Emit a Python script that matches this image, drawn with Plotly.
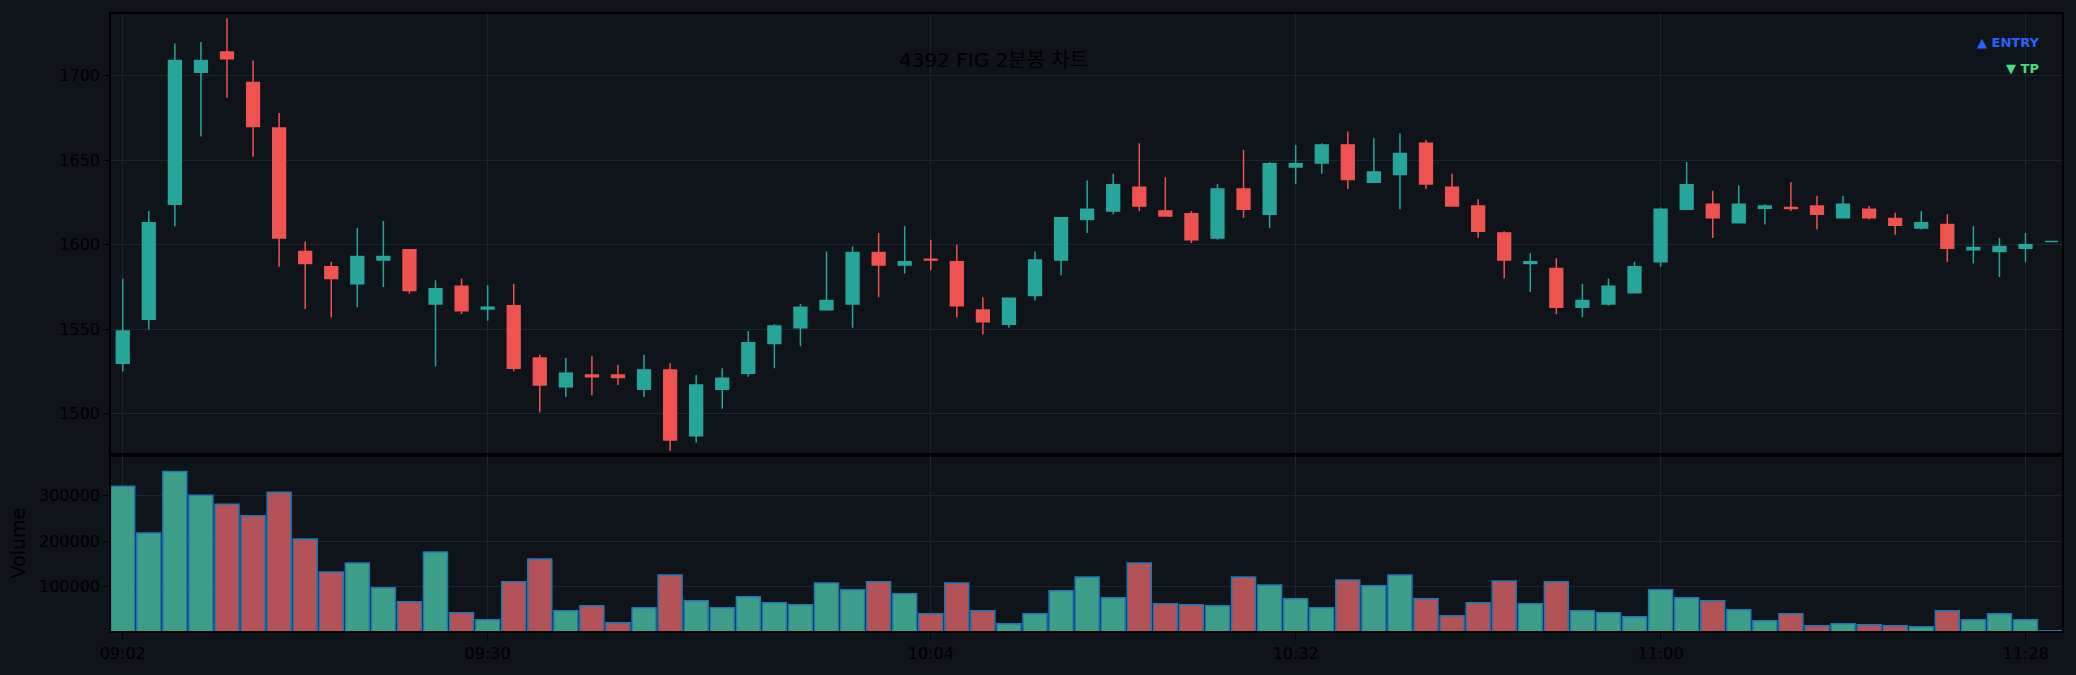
import pandas as pd
import plotly.graph_objects as go
from plotly.subplots import make_subplots

TITLE = "4392 FIG 2분봉 차트"
START = "2024-01-02 09:02"
FREQ = "2min"

OPEN = [1530, 1556, 1624, 1702, 1714, 1696, 1669, 1596, 1587, 1577,
        1591, 1597, 1565, 1575.5, 1562, 1564, 1533, 1516, 1523, 1523,
        1514.5, 1526, 1487, 1514.5, 1524, 1541.6, 1551, 1561.6, 1565, 1595.5,
        1588, 1591.5, 1590, 1561.4, 1553, 1570, 1591, 1615, 1620, 1634,
        1620, 1618.4, 1604, 1633, 1618, 1646, 1648.4, 1659, 1637, 1641.6,
        1660, 1634, 1623, 1607, 1589, 1586, 1563, 1565, 1571.6, 1590,
        1621, 1624, 1613, 1621.6, 1622, 1623, 1616, 1621, 1615.5, 1610,
        1612, 1597, 1596, 1598, 1602]
HIGH = [1580, 1620, 1719, 1720, 1734, 1709, 1678, 1602, 1590, 1610,
        1614, 1597.5, 1579, 1580, 1576, 1577, 1535, 1533, 1534, 1529,
        1535, 1530, 1523, 1527, 1549, 1553, 1565, 1596, 1599, 1607,
        1611, 1603, 1600, 1569, 1568.5, 1596, 1616, 1638, 1642, 1660,
        1640, 1620, 1636, 1656, 1649, 1659, 1660, 1667, 1663, 1666,
        1662, 1642, 1627, 1608, 1595, 1592, 1577, 1580, 1590, 1622,
        1649, 1632, 1635, 1624, 1637, 1629, 1629, 1623, 1619, 1620,
        1618, 1611, 1604, 1607, 1602]
LOW = [1525, 1550, 1611, 1664, 1687, 1652, 1587, 1562, 1557, 1563,
       1575, 1571, 1528, 1559, 1555, 1525, 1501, 1510, 1511, 1517,
       1510, 1478, 1483, 1503, 1522, 1527, 1540, 1561, 1551, 1569,
       1583, 1585, 1557, 1547, 1551, 1567, 1582, 1607, 1618, 1620,
       1617, 1601, 1603, 1616, 1610, 1636, 1642, 1633, 1637, 1621,
       1633, 1622.7, 1604, 1580, 1572, 1559, 1557, 1564, 1571.5, 1587,
       1621, 1604, 1612.7, 1612, 1620, 1609, 1615.7, 1615, 1606, 1609,
       1590, 1589, 1581, 1590, 1602]
CLOSE = [1549, 1613, 1709, 1709, 1710, 1670, 1604, 1589, 1580, 1593,
         1593, 1573, 1574, 1561, 1563, 1527, 1517, 1524, 1522, 1521.5,
         1526, 1484.5, 1517, 1521, 1542, 1552, 1563, 1567, 1595.5, 1588,
         1590, 1591, 1564, 1554.5, 1568.4, 1591, 1616, 1621, 1635.5, 1623,
         1617, 1603, 1633, 1621, 1648, 1648, 1659, 1638.6, 1643, 1654,
         1636, 1623, 1608, 1591, 1590, 1563, 1567, 1575.5, 1587, 1621,
         1635.5, 1616, 1624, 1623, 1621.5, 1618, 1624, 1616, 1611.6, 1613,
         1598, 1598.4, 1599, 1600, 1602]
VOLUME = [319600, 217400, 352200, 300000, 280400, 255100, 306500, 204300, 132600, 152200,
          97800, 67400, 176100, 43500, 28300, 110900, 160900, 47800, 58700, 21700,
          54300, 126100, 69600, 54300, 78300, 65200, 60900, 108700, 93500, 110900,
          84800, 41300, 108700, 47800, 19600, 41300, 91300, 121700, 76100, 152200,
          63000, 60900, 58700, 121700, 104300, 73900, 54300, 115200, 102200, 126100,
          73900, 36900, 65200, 113000, 63000, 110900, 47800, 43500, 34800, 93500,
          76100, 69600, 50000, 26100, 41300, 15200, 19600, 17400, 15200, 13000,
          47800, 28300, 41300, 28300, 4200]

TICK_LABELS = ["09:02", "09:30", "10:04", "10:32", "11:00", "11:28"]
PRICE_TICKS = [1500, 1550, 1600, 1650, 1700]
VOLUME_TICKS = [100000, 200000, 300000]
LEGEND_LABELS = ["▲ ENTRY", "▼ TP"]

UP = "#26a69a"
DOWN = "#ef5350"
UP_VOL = "#3d9e8a"
DOWN_VOL = "#b35257"
BG = "#0f131a"
GRID = "#1c2633"

times = pd.date_range(START, periods=len(OPEN), freq=FREQ)
day = START.split(" ")[0]
tickvals = [pd.Timestamp(f"{day} {t}") for t in TICK_LABELS]
vol_colors = [UP_VOL if c > o else DOWN_VOL for o, c in zip(OPEN, CLOSE)]

fig = make_subplots(rows=2, cols=1, shared_xaxes=True, vertical_spacing=0,
                    row_heights=[0.7152, 0.2848])

fig.add_trace(go.Candlestick(
    x=times, open=OPEN, high=HIGH, low=LOW, close=CLOSE,
    increasing=dict(line=dict(color=UP, width=1.5), fillcolor=UP),
    decreasing=dict(line=dict(color=DOWN, width=1.5), fillcolor=DOWN),
    showlegend=False, name="Price"), row=1, col=1)

fig.add_trace(go.Bar(
    x=times, y=VOLUME, marker=dict(color=vol_colors, line=dict(color="#1f77b4", width=1.5)),
    showlegend=False, name="Volume"), row=2, col=1)

xrange = [pd.Timestamp(f"{day} 09:01:06"), pd.Timestamp(f"{day} 11:30:48")]
axis_common = dict(showline=True, linecolor="#000000", linewidth=1.5, mirror=True,
                   gridcolor=GRID, gridwidth=1, zeroline=False)

fig.update_xaxes(**axis_common, range=xrange, tickvals=tickvals, ticktext=TICK_LABELS,
                 rangeslider_visible=False)
fig.update_xaxes(showticklabels=False, ticks="", row=1, col=1)
fig.update_xaxes(ticks="outside", ticklen=7, tickcolor="#000000", row=2, col=1)

fig.update_yaxes(**axis_common, ticks="outside", ticklen=6, tickcolor="#000000")
fig.update_yaxes(range=[1475.5, 1736.5], tickvals=PRICE_TICKS, row=1, col=1)
fig.update_yaxes(range=[3600, 387400], tickvals=VOLUME_TICKS, tickformat="d",
                 title_text="Volume", title_standoff=8, row=2, col=1)

fig.add_annotation(text=f"<b>{LEGEND_LABELS[0]}</b>", xref="paper", yref="paper",
                   x=0.9892, y=0.9543, xanchor="right", yanchor="middle", showarrow=False,
                   font=dict(size=13, color="#2962ff", family="DejaVu Sans"))
fig.add_annotation(text=f"<b>{LEGEND_LABELS[1]}</b>", xref="paper", yref="paper",
                   x=0.9892, y=0.9124, xanchor="right", yanchor="middle", showarrow=False,
                   font=dict(size=13, color="#4ade80", family="DejaVu Sans"))

fig.update_layout(
    width=2076, height=675,
    margin=dict(l=111, r=12, t=12, b=42),
    paper_bgcolor=BG, plot_bgcolor=BG,
    font=dict(family="DejaVu Sans, Noto Sans CJK KR", size=16, color="#000000"),
    title=dict(text=TITLE, x=0.4786, xanchor="center", y=0.9107, yanchor="middle",
               font=dict(size=20, color="#000000", family="DejaVu Sans, Noto Sans CJK KR")),
    bargap=0.08,
    showlegend=False,
)

fig.write_html("out.html")
